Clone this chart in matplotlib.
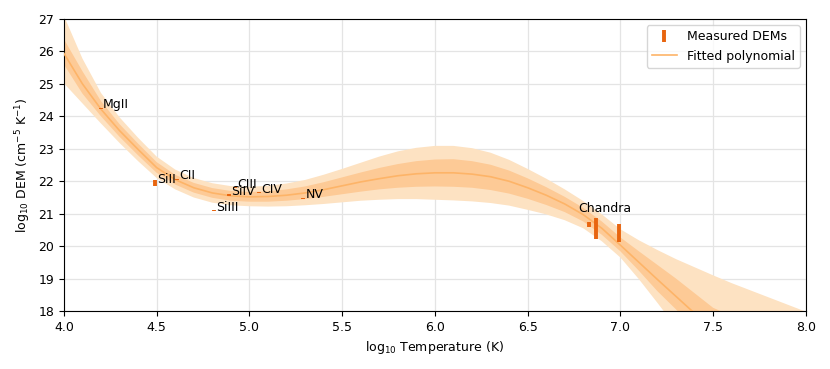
import numpy as np
import matplotlib
matplotlib.use("Agg")
import matplotlib.pyplot as plt

# temperature grid of the fitted curve (log10 K)
temp = [4.0, 4.1, 4.2, 4.3, 4.4, 4.5, 4.6, 4.7, 4.8, 4.9,
        5.0, 5.1, 5.2, 5.3, 5.4, 5.5, 5.6, 5.7, 5.8, 5.9,
        6.0, 6.1, 6.2, 6.3, 6.4, 6.5, 6.6, 6.7, 6.8, 6.9,
        7.0, 7.1, 7.2, 7.3, 7.4, 7.5, 7.6, 7.7, 7.8, 7.9, 8.0]

# fitted polynomial (median)
fit_mid = [25.94, 25.0, 24.22, 23.56, 22.98, 22.42, 22.05, 21.8, 21.64, 21.55,
           21.52, 21.53, 21.57, 21.64, 21.74, 21.86, 21.98, 22.08, 22.17, 22.23,
           22.26, 22.26, 22.22, 22.14, 22.0, 21.8, 21.57, 21.3, 20.97, 20.55,
           20.03, 19.5, 18.97, 18.45, 17.93, 17.4, 16.85, 16.3, 15.7, 15.1, 14.5]

# inner band
inner_lo = [25.6, 24.7, 24.0, 23.37, 22.8, 22.26, 21.9, 21.65, 21.49, 21.4,
            21.37, 21.37, 21.4, 21.45, 21.52, 21.6, 21.68, 21.75, 21.8, 21.83,
            21.84, 21.83, 21.8, 21.73, 21.62, 21.46, 21.27, 21.05, 20.76, 20.35,
            19.84, 19.24, 18.61, 18.05, 17.45, 16.7, 16.0, 15.35, 14.65, 13.95, 13.25]
inner_hi = [26.38, 25.39, 24.47, 23.76, 23.16, 22.59, 22.2, 21.95, 21.79, 21.7,
            21.67, 21.69, 21.75, 21.84, 21.97, 22.12, 22.27, 22.41, 22.53, 22.62,
            22.67, 22.68, 22.62, 22.51, 22.33, 22.09, 21.82, 21.52, 21.18, 20.76,
            20.27, 19.84, 19.42, 19.0, 18.55, 18.1, 17.85, 17.47, 17.06, 16.65, 16.24]

# outer band
outer_lo = [25.02, 24.4, 23.78, 23.18, 22.62, 22.1, 21.75, 21.5, 21.34, 21.26,
            21.23, 21.22, 21.23, 21.26, 21.3, 21.35, 21.4, 21.43, 21.45, 21.45,
            21.43, 21.41, 21.38, 21.33, 21.25, 21.12, 20.98, 20.8, 20.55, 20.15,
            19.65, 18.98, 18.25, 17.5, 16.8, 16.0, 15.2, 14.4, 13.6, 12.8, 12.0]
outer_hi = [27.1, 25.78, 24.72, 23.97, 23.34, 22.76, 22.36, 22.1, 21.94, 21.85,
            21.83, 21.86, 21.93, 22.04, 22.2, 22.38, 22.57, 22.76, 22.92, 23.03,
            23.09, 23.09, 23.02, 22.88, 22.66, 22.38, 22.08, 21.75, 21.39, 20.98,
            20.52, 20.18, 19.88, 19.6, 19.35, 19.1, 18.86, 18.64, 18.42, 18.2, 17.98]

# measured DEMs
lines = ["MgII", "SiII", "CII", "SiIII", "SiIV", "CIII", "CIV", "NV"]
line_t = [4.2, 4.49, 4.61, 4.81, 4.89, 4.92, 5.05, 5.29]
line_dem = [24.25, 21.94, 22.06, 21.09, 21.57, 21.8, 21.65, 21.47]
line_err = [0.02, 0.1, 0.02, 0.02, 0.03, 0.02, 0.02, 0.02]

chandra_t = [6.83, 6.87, 6.99]
chandra_dem = [20.665, 20.54, 20.41]
chandra_err = [0.085, 0.32, 0.27]

fig, ax = plt.subplots(figsize=(8.3, 3.69), dpi=100)
fig.subplots_adjust(left=0.077, right=0.971, top=0.9485, bottom=0.157)

ax.fill_between(temp, outer_lo, outer_hi, color="#fde2c2", lw=0, zorder=1)
ax.fill_between(temp, inner_lo, inner_hi, color="#fdca96", lw=0, zorder=2)
ax.plot(temp, fit_mid, color="#fdb468", lw=1.2, zorder=3, label="Fitted polynomial")

ax.errorbar(line_t + chandra_t, line_dem + chandra_dem, yerr=line_err + chandra_err,
            fmt="none", ecolor="#e8650f", elinewidth=2.8, capsize=0, zorder=4,
            label="Measured DEMs")

for name, t, d in zip(lines, line_t, line_dem):
    ax.text(t + 0.012, d, name, fontsize=9, zorder=5)
ax.text(6.77, 21.05, "Chandra", fontsize=9, zorder=5)

ax.set_xlim(4.0, 8.0)
ax.set_ylim(18, 27)
ax.set_xticks(np.arange(4.0, 8.01, 0.5))
ax.set_yticks(range(18, 28))
ax.tick_params(labelsize=9)
ax.grid(True, color="#e4e4e4", lw=0.9)
ax.set_axisbelow(True)
ax.set_xlabel(r"log$_{10}$ Temperature (K)", fontsize=9)
ax.set_ylabel(r"log$_{10}$ DEM (cm$^{-5}$ K$^{-1}$)", fontsize=9)

h, l = ax.get_legend_handles_labels()
ax.legend(h[::-1], l[::-1], loc="upper right", fontsize=9)

fig.savefig("out.png")
